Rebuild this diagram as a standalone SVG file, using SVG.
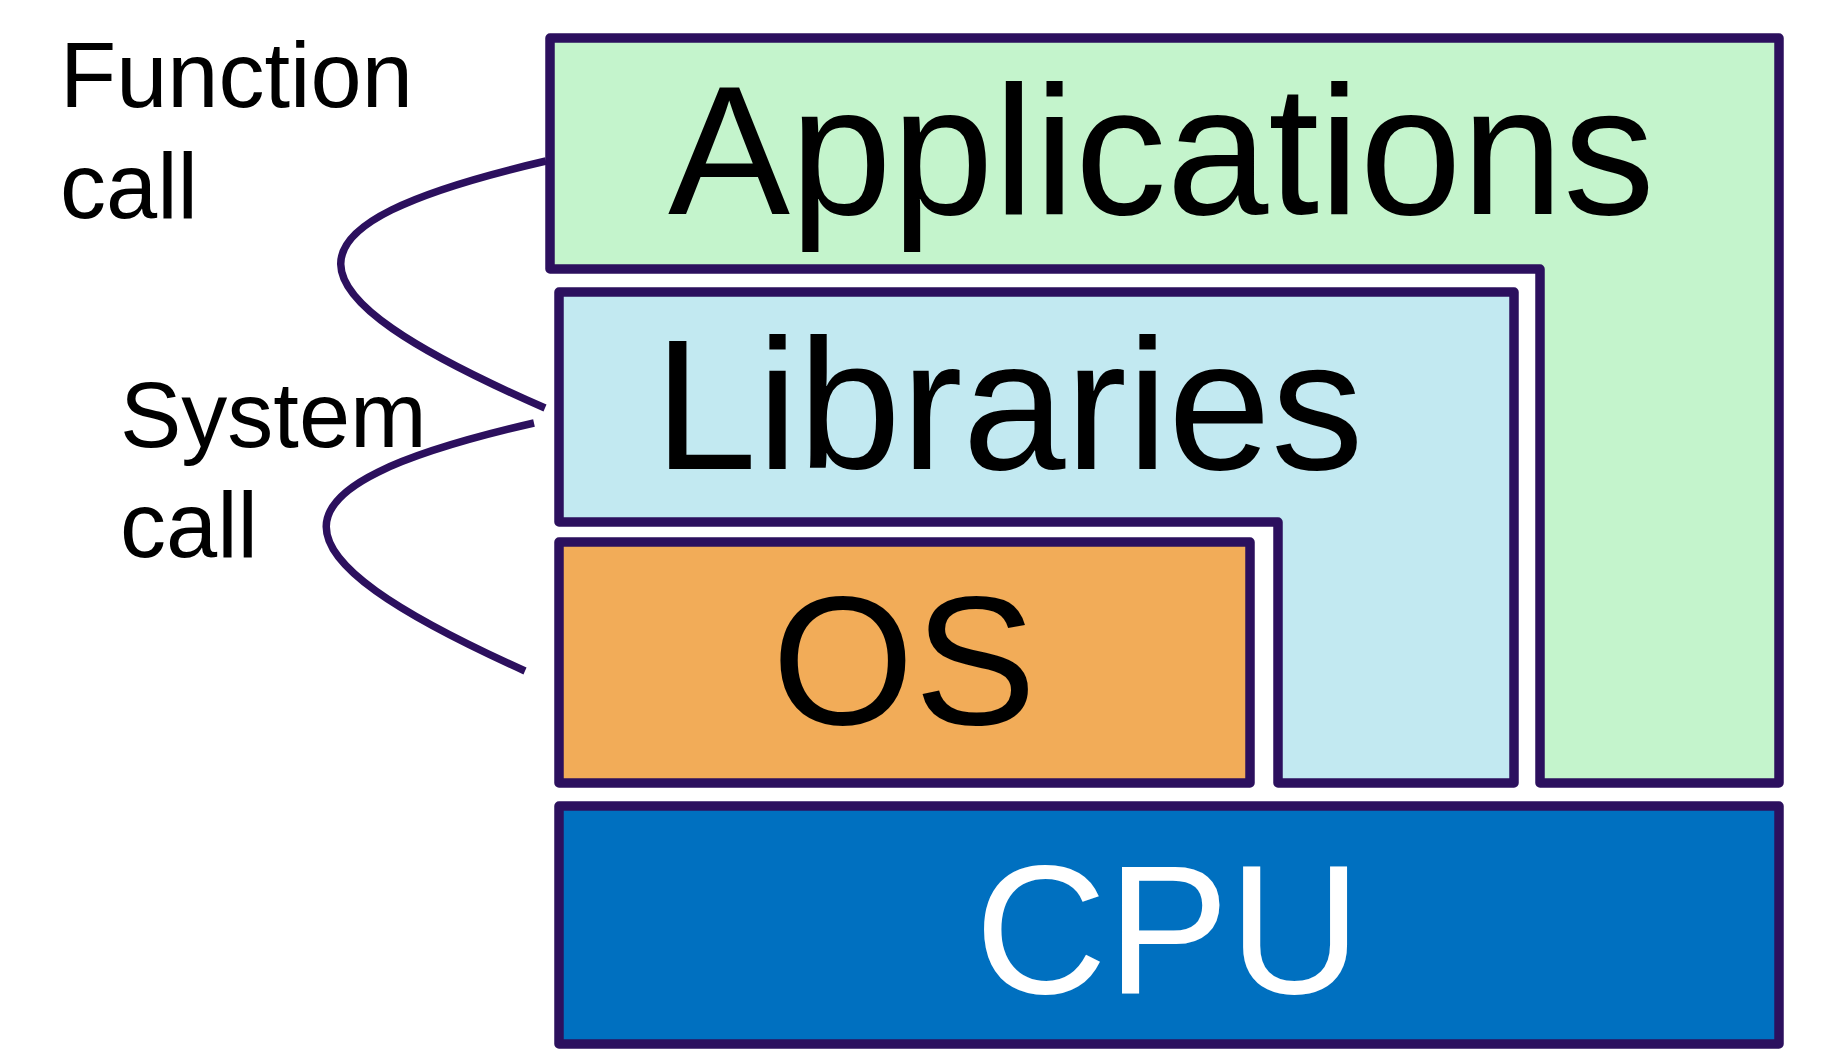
<svg xmlns="http://www.w3.org/2000/svg" width="1837" height="1057" viewBox="0 0 1837 1057">
  <style>
    .box { stroke: #2C105E; stroke-width: 9.5; stroke-linejoin: round; }
    .big { font-family: "Liberation Sans", Arial, sans-serif; font-size: 183px; }
    .lbl { font-family: "Liberation Sans", Arial, sans-serif; font-size: 92px; fill: #000; }
    .conn { fill: none; stroke: #2C105E; stroke-width: 7.5; }
  </style>
  <rect width="1837" height="1057" fill="#FFFFFF"/>
  <g id="applications">
    <polygon class="box" fill="#C4F4CC" points="550,38 1779,38 1779,783 1540,783 1540,269 550,269"/>
    <text class="big" x="668" y="214" fill="#000">Applications</text>
  </g>
  <g id="libraries">
    <polygon class="box" fill="#C2E9F1" points="559,292 1514,292 1514,783 1278,783 1278,522 559,522"/>
    <text class="big" x="654" y="469" fill="#000" style="font-size:185px">Libraries</text>
  </g>
  <g id="os">
    <rect class="box" fill="#F2AC58" x="559" y="542" width="691" height="241"/>
    <text class="big" x="904" y="724" text-anchor="middle" fill="#000">OS</text>
  </g>
  <g id="cpu">
    <rect class="box" fill="#0070C0" x="559" y="806" width="1220" height="238"/>
    <text class="big" x="1168" y="993" text-anchor="middle" fill="#FFFFFF">CPU</text>
  </g>
  <g id="labels">
    <text class="lbl" x="60" y="107">Function</text>
    <text class="lbl" x="60" y="218">call</text>
    <text class="lbl" x="120" y="447">System</text>
    <text class="lbl" x="120" y="557">call</text>
  </g>
  <g id="connectors">
    <path class="conn" d="M546,161 C270,225 275,290 545,408"/>
    <path class="conn" d="M534,423 C256,487 261,552 525,671"/>
  </g>
</svg>
